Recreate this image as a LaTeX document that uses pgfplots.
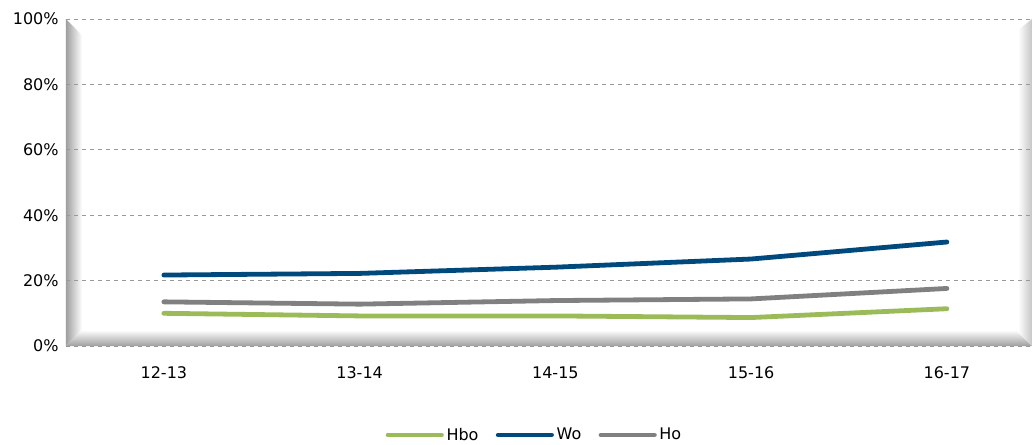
\documentclass[border=0pt]{standalone}
\usepackage{pgfplots}
\pgfplotsset{compat=1.18}
\usepackage{fontspec}
\setmainfont{DejaVu Sans}
\definecolor{hbo}{RGB}{155,187,89}
\definecolor{wo}{RGB}{0,73,124}
\definecolor{ho}{RGB}{128,128,128}
\begin{document}
\begin{tikzpicture}[x=1pt,y=1pt]
\useasboundingbox (-49.5,-73.5) rectangle (724.5,259.5);
% bevel frame
\shade[left color=gray!75, right color=white] (0,0) -- (0,245.25) -- (12,233) -- (12,12) -- cycle;
\shade[bottom color=gray!75, top color=white] (0,0) -- (724.5,0) -- (712.5,12) -- (12,12) -- cycle;
\shade[right color=gray!45, left color=white] (724.5,0) -- (724.5,245.25) -- (714,237) -- (714,10) -- cycle;
\begin{axis}[
  at={(0,0)}, anchor=south west,
  scale only axis, width=734.06pt, height=245.25pt,
  xmin=-0.5, xmax=4.5, ymin=0, ymax=100,
  axis line style={draw=none},
  xtick={0,1,2,3,4},
  xticklabels={12-13,13-14,14-15,15-16,16-17},
  ytick={0,20,40,60,80,100},
  yticklabel={\pgfmathprintnumber{\tick}\%},
  /pgf/number format/assume math mode=true,
  tick style={draw=none},
  ymajorgrids, major grid style={dashed, gray!80, line width=0.6pt},
  tick label style={font=\fontsize{12}{14}\selectfont, text=black},
  xticklabel style={yshift=-12pt},
  yticklabel style={xshift=-2pt},
  clip=false,
  legend style={at={(0.479,-0.272)}, anchor=center, draw=none, fill=none,
    legend columns=-1, font=\fontsize{12}{14}\selectfont,
    /tikz/every odd column/.append style={column sep=0pt},
    /tikz/every even column/.append style={column sep=11pt},
    /tikz/inner sep=1pt},
  legend image code/.code={\draw[#1, line cap=round] (0pt,0pt) -- (40pt,0pt);},
  every axis plot/.append style={line width=3.6pt, line cap=round, line join=round, sharp plot, mark=none},
]
\addplot[color=hbo] coordinates {(0,10.0) (1,9.2) (2,9.2) (3,8.7) (4,11.4)};
\addlegendentry{Hbo}
\addplot[color=wo] coordinates {(0,21.7) (1,22.2) (2,24.1) (3,26.6) (4,31.8)};
\addlegendentry{Wo}
\addplot[color=ho] coordinates {(0,13.5) (1,12.8) (2,13.9) (3,14.4) (4,17.6)};
\addlegendentry{Ho}
\end{axis}
\end{tikzpicture}
\end{document}
